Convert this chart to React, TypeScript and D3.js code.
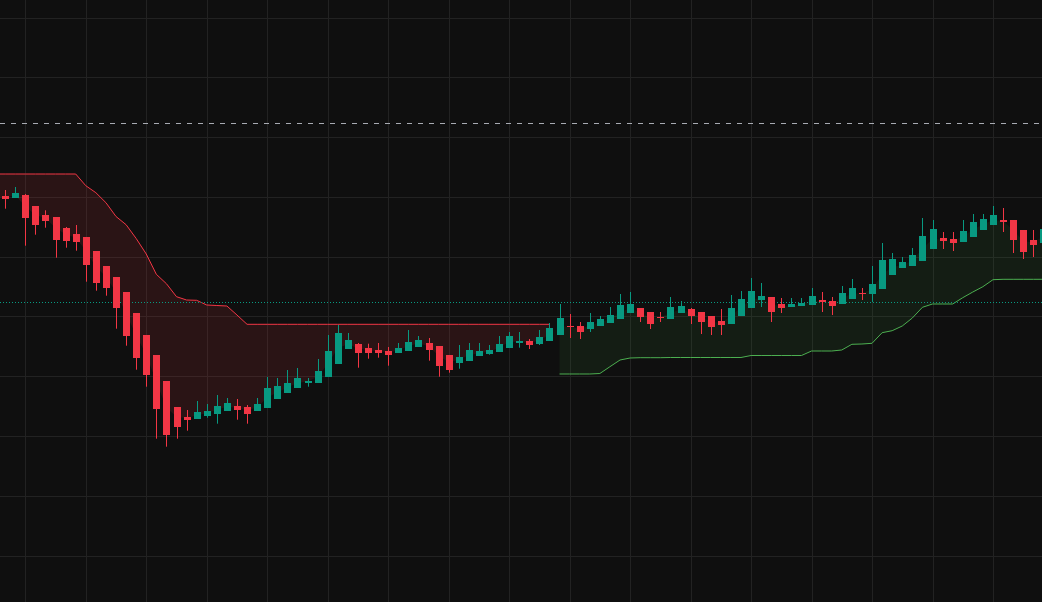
import React from 'react';
import { scaleLinear, line, area, range, curveLinear } from 'd3';

// OHLC per bar (price units)
const opens = [406, 404, 407, 396, 387, 385, 374, 368, 365, 351, 336, 325, 310, 289, 267, 247, 221, 195, 185, 183.3,
  186.3, 188.3, 191.3, 196, 195, 191.3, 194.3, 203.3, 209.3, 214.3, 219.3, 219.3, 225, 238.3, 253.3, 258, 254, 252, 251, 249.3,
  251.3, 255.3, 259, 256, 247, 239.3, 241.3, 246.3, 248.3, 250.3, 254.3, 259.3, 261, 258, 261, 267, 276, 276, 273, 276,
  279, 283, 289, 294, 290, 285, 283, 289, 293, 290, 286, 281, 278, 286, 294, 302, 305, 298, 295, 296,
  297, 302, 301, 298, 303, 309, 308, 313, 327, 334, 336, 341, 353, 364, 363, 360, 365, 372, 377, 382,
  382, 372, 362, 359];
const highs = [412, 415, 408, 396, 391.7, 385, 375, 377, 365, 351, 336, 325, 310, 289, 267, 247, 221, 195, 192, 201,
  198, 207, 204, 203, 197, 204, 225, 224, 232, 234, 224, 243, 267, 277, 269, 259, 258.3, 259, 255, 259,
  272, 266, 264, 256, 247, 257, 259, 259, 257, 266, 270, 270, 263, 272, 279, 298, 288, 280, 289, 286,
  295, 308, 310, 294, 290, 290, 305, 301, 294, 290, 286, 293, 307, 311, 324, 319, 305, 304, 304, 304,
  314, 310, 305, 316, 323, 314, 336, 359, 349, 345, 354, 384, 382, 370, 370, 382, 388, 388, 396, 394,
  382, 372, 372, 377];
const lows = [393.3, 404, 356.3, 367.3, 374.3, 344.3, 354.3, 351.3, 320.3, 311.3, 306.3, 273.3, 256.3, 232.3, 215.3, 163.3, 155.3, 163.3, 171.3, 183.3,
  184.3, 178.3, 191.3, 182.3, 178.3, 191.3, 194.3, 203.3, 209.3, 214.3, 215.3, 219.3, 225, 238.3, 253.3, 234.3, 243.3, 244.3, 236.3, 249.3,
  251.3, 255.3, 241.3, 225.3, 229.3, 233.3, 241.3, 246.3, 247.3, 250.3, 254.3, 254.3, 253, 257, 261, 267, 264, 263, 270, 276,
  279, 283, 289, 280, 273, 280, 283, 289, 278, 268, 267, 267, 278, 286, 294, 295, 280, 289, 295, 296,
  297, 290, 287, 298, 303, 302, 300, 313, 327, 334, 336, 341, 353, 353, 351, 360, 365, 372, 377, 370,
  349, 343, 345, 355];
const closes = [403.3, 409, 384.3, 377.3, 381.3, 362.3, 361.3, 360.3, 337.3, 319.3, 314.3, 294.3, 266.3, 244.3, 227.3, 193.3, 167.3, 175.3, 182.3, 190,
  191, 196, 199, 192.3, 188.3, 198, 214, 216, 219, 224, 221.3, 231, 251, 269, 262, 249.3, 249.3, 249.3, 247.3, 254,
  260, 262, 252.3, 236.3, 232.3, 245, 252, 251, 252, 258, 266, 261, 257, 265, 274, 284, 275, 270, 280, 283,
  287, 297, 298, 285, 278, 284.3, 295, 296, 286, 280, 275, 277, 294, 303, 311, 306, 290, 294, 298, 299,
  306, 300, 296, 309, 314, 308, 318, 342, 343, 340, 347, 366, 373, 361, 359, 371, 380, 383, 387, 380,
  362, 350, 357, 373];

// trailing stop: down-trend (bars 0..54), up-trend (bars 55..103)
const stopDown = [428, 428, 428, 428, 428, 428, 428, 428, 416.3, 409.3, 399.3, 385.5, 377.3, 363.5, 348, 327.7, 318.3, 305.3, 302, 301.7,
  297, 296.5, 296, 287, 277.7, 277.7, 277.7, 277.7, 277.7, 277.7, 277.7, 277.7, 277.7, 277.7, 277.7, 277.7, 277.7, 277.7, 277.7, 277.7,
  277.7, 277.7, 277.7, 277.7, 277.7, 277.7, 277.7, 277.7, 277.7, 277.7, 277.7, 277.7, 277.7, 277.7, 277.7];
const stopUp = [228, 228, 228, 228, 228.5, 235.3, 242, 244, 244.3, 244.3, 244.3, 244.5, 244.5, 244.5, 244.5, 244.5, 244.5, 244.5, 244.5, 246.5,
  246.5, 246.5, 246.5, 246.5, 246.5, 251, 251, 251, 252, 257.7, 258, 258.7, 269.3, 271.3, 276, 284, 294.7, 298, 298, 298,
  304.3, 310, 315.3, 322.3, 322.7, 322.7, 322.7, 322.7, 322.7];

const dashedLevel = 478.7;
const lastLevel = 299.7;

const W = 1042;
const H = 602;
const UP = '#089981';
const DOWN = '#f23645';

export default function App() {
  const x = scaleLinear().domain([0, 103]).range([5.14, 5.14 + 10.08 * 103]);
  const y = scaleLinear().domain([0, 602]).range([H, 0]);

  const gridY = range(46.3, 600, 59.8);
  const gridX = range(2, 110, 6);

  const downIdx = [-1, ...range(0, 55)];
  const upIdx = range(55, 104);
  const mid = (i: number) => (opens[Math.max(i, 0)] + closes[Math.max(i, 0)]) / 2;
  const sDown = (i: number) => stopDown[Math.max(i, 0)];
  const sUp = (i: number) => stopUp[i - 55];

  const downLine = line<number>().x((i) => x(i)).y((i) => y(sDown(i))).curve(curveLinear);
  const downArea = area<number>().x((i) => x(i)).y0((i) => y(sDown(i))).y1((i) => y(mid(i)));
  const upLine = line<number>().x((i) => x(i)).y((i) => y(sUp(i)));
  const upArea = area<number>().x((i) => x(i)).y0((i) => y(sUp(i))).y1((i) => y(mid(i)));

  return (
    <div style={{ position: 'fixed', left: 0, top: 0, width: W, height: H, background: '#0f0f0f' }}>
      <svg width={W} height={H} style={{ display: 'block' }}>
        <rect width={W} height={H} fill="#0f0f0f" />
        {gridY.map((p, k) => (
          <line key={'gy' + k} x1={0} x2={W} y1={Math.round(y(p)) + 0.5} y2={Math.round(y(p)) + 0.5} stroke="#222222" />
        ))}
        {gridX.map((i) => (
          <line key={'gx' + i} x1={Math.round(x(i)) + 0.5} x2={Math.round(x(i)) + 0.5} y1={0} y2={H} stroke="#222222" />
        ))}

        <path d={downArea(downIdx) || ''} fill="rgba(242,54,69,0.12)" />
        <path d={upArea(upIdx) || ''} fill="rgba(76,175,80,0.09)" />
        <path d={downLine(downIdx) || ''} fill="none" stroke={DOWN} strokeWidth={1} />
        <path d={upLine(upIdx) || ''} fill="none" stroke="#4caf50" strokeWidth={1} />

        <line x1={0} x2={W} y1={Math.round(y(dashedLevel)) + 0.5} y2={Math.round(y(dashedLevel)) + 0.5}
          stroke="#a8abb3" strokeDasharray="5,6" />
        <line x1={0} x2={W} y1={Math.round(y(lastLevel)) + 0.5} y2={Math.round(y(lastLevel)) + 0.5}
          stroke={UP} strokeDasharray="1,2" />

        {opens.map((o, i) => {
          const c = closes[i];
          const col = c >= o ? UP : DOWN;
          const cx = Math.round(x(i));
          const top = Math.round(y(Math.max(o, c)));
          const bot = Math.round(y(Math.min(o, c)));
          return (
            <g key={i}>
              <line x1={cx + 0.5} x2={cx + 0.5} y1={y(highs[i])} y2={y(lows[i])} stroke={col} strokeWidth={1} />
              <rect x={cx - 3} y={top} width={7} height={Math.max(bot - top, 1)} fill={col} />
            </g>
          );
        })}
      </svg>
    </div>
  );
}
